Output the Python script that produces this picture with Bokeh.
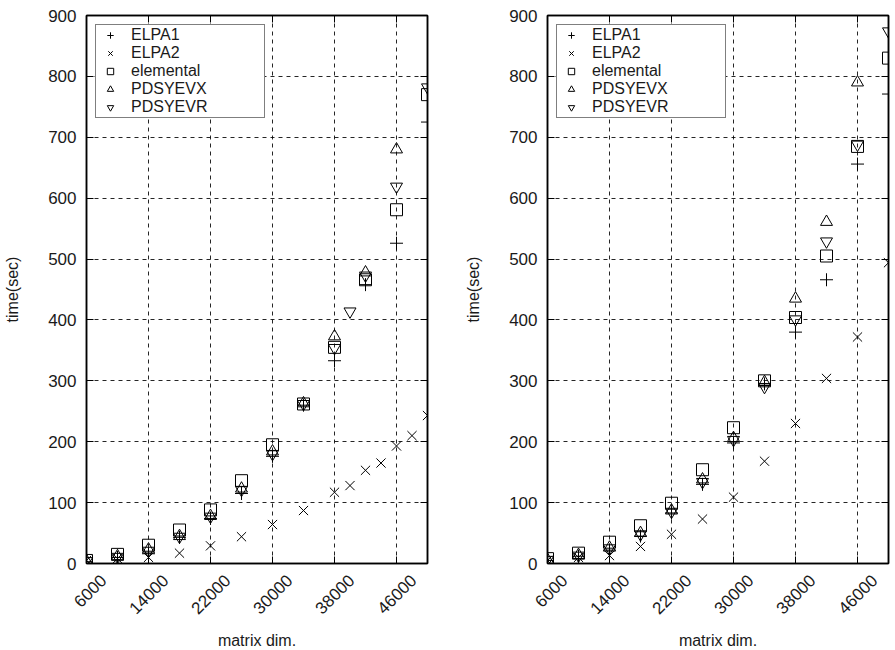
import math
from bokeh.plotting import figure
from bokeh.layouts import row
from bokeh.models import Range1d, FixedTicker, LinearAxis, Legend, LegendItem
from bokeh.embed import file_html
from bokeh.resources import INLINE

NAN = float("nan")

# ---------------- data ----------------
series_names = ["ELPA1", "ELPA2", "elemental", "PDSYEVX", "PDSYEVR"]
x_ticks = [6000, 14000, 22000, 30000, 38000, 46000]
y_ticks = [0, 100, 200, 300, 400, 500, 600, 700, 800, 900]
x_start, x_end = 6000, 50000
y_start, y_end = 0, 900

x_dims = [6000, 10000, 14000, 18000, 22000, 26000, 30000, 34000, 38000, 42000, 46000, 50000]

# left panel
left_elpa1 = [3, 10, 16, 43, 74, 115, 176, 260, 333, 458, 526, 725]
left_elpa2_x = [6000, 10000, 14000, 18000, 22000, 26000, 30000, 34000, 38000,
                40000, 42000, 44000, 46000, 48000, 50000]
left_elpa2 = [5, 8, 10, 17, 29, 44, 64, 87, 117, 128, 153, 165, 193, 210, 243]
left_elemental = [5, 15, 30, 55, 88, 136, 195, 262, 355, 466, 581, 770]
left_pdsyevx = [4, 12, 23, 45, 78, 123, 184, 263, 373, 478, 680, NAN]
left_pdsyevr_x = [6000, 10000, 14000, 18000, 22000, 26000, 30000, 34000, 38000,
                  40000, 42000, 46000, 50000]
left_pdsyevr = [4, 11, 21, 44, 77, 121, 180, 262, 354, 414, 473, 619, 782]

# right panel
right_elpa1 = [5, 12, 22, 45, 83, 130, 198, 295, 380, 466, 656, 771]
right_elpa2 = [5, 10, 13, 28, 48, 73, 109, 168, 230, 304, 372, 494]
right_elemental = [8, 17, 35, 62, 99, 154, 223, 300, 404, 505, 685, 830]
right_pdsyevx = [6, 14, 26, 50, 87, 138, 206, 298, 435, 561, 790, NAN]
right_pdsyevr = [6, 13, 25, 48, 85, 134, 203, 290, 401, 529, 688, 874]

markers = ["cross", "x", "square", "triangle", "inverted_triangle"]
sizes = [13, 13, 12, 12, 12]

FONT = "Liberation Sans"
TXT = "#1a1a1a"
FRAME_W = 341
LABEL_SHIFT_PX = 17  # rotated tick labels sit a little right of their tick


def style_axis(ax):
    ax.axis_line_color = "black"
    ax.axis_line_width = 1.5
    ax.major_tick_in = 7
    ax.major_tick_out = 0
    ax.minor_tick_in = 7
    ax.minor_tick_out = 0
    ax.major_tick_line_color = "black"
    ax.minor_tick_line_color = "black"
    ax.major_tick_line_width = 1
    ax.minor_tick_line_width = 1
    ax.major_label_text_font = FONT
    ax.major_label_text_font_size = "17px"
    ax.major_label_text_color = TXT
    ax.axis_label_text_font = FONT
    ax.axis_label_text_font_size = "16px"
    ax.axis_label_text_font_style = "normal"
    ax.axis_label_text_color = TXT


def make_panel(xs_list, ys_list, left_border, right_border):
    p = figure(width=left_border + FRAME_W + right_border, height=650,
               frame_width=FRAME_W, frame_height=548,
               min_border_left=left_border, min_border_right=right_border,
               min_border_top=15, min_border_bottom=87,
               x_range=Range1d(x_start, x_end), y_range=Range1d(y_start, y_end),
               output_backend="svg", toolbar_location=None,
               y_axis_label="time(sec)")
    p.outline_line_color = "black"
    p.outline_line_width = 1.5
    p.background_fill_color = "white"
    p.border_fill_color = "white"

    # bottom axis: inward ticks only
    for ax in p.xaxis:
        style_axis(ax)
        ax.ticker = FixedTicker(ticks=[], minor_ticks=x_ticks)
        ax.major_label_standoff = 0
    for ax in p.yaxis:
        style_axis(ax)
        ax.ticker = FixedTicker(ticks=y_ticks, minor_ticks=[])
        ax.major_label_standoff = 10
        ax.axis_label_standoff = 24

    # rotated tick labels on a slightly shifted copy of the x scale
    d = LABEL_SHIFT_PX * (x_end - x_start) / FRAME_W
    p.extra_x_ranges = {"lab": Range1d(x_start - d, x_end - d)}
    la = LinearAxis(x_range_name="lab", axis_label="matrix dim.")
    style_axis(la)
    la.ticker = FixedTicker(ticks=x_ticks, minor_ticks=[])
    la.axis_line_color = None
    la.major_tick_in = 0
    la.minor_tick_in = 0
    la.major_label_orientation = math.pi / 4
    la.major_label_standoff = 14
    la.axis_label_standoff = 10
    p.add_layout(la, "below")

    # mirrored inward ticks on right and top
    ra = LinearAxis()
    style_axis(ra)
    ra.ticker = FixedTicker(ticks=[], minor_ticks=y_ticks)
    ra.major_label_standoff = 0
    p.add_layout(ra, "right")
    ta = LinearAxis()
    style_axis(ta)
    ta.ticker = FixedTicker(ticks=[], minor_ticks=x_ticks)
    ta.major_label_standoff = 0
    p.add_layout(ta, "above")

    p.xgrid.ticker = FixedTicker(ticks=x_ticks)
    p.ygrid.ticker = FixedTicker(ticks=y_ticks)
    for g in (p.xgrid, p.ygrid):
        g.grid_line_color = "black"
        g.grid_line_alpha = 0.85
        g.grid_line_width = 1
        g.grid_line_dash = "4 4"

    items = []
    for name, mk, sz, xs, ys in zip(series_names, markers, sizes, xs_list, ys_list):
        r = p.scatter(xs, ys, marker=mk, size=sz, line_color="black",
                      fill_color=None, line_width=1)
        items.append(LegendItem(label=name, renderers=[r]))

    leg = Legend(items=items, location="top_left")
    leg.margin = 9
    leg.padding = 1
    leg.spacing = 0
    leg.label_height = 16
    leg.glyph_height = 16
    leg.glyph_width = 26
    leg.label_standoff = 8
    leg.label_width = 132
    leg.label_text_font = FONT
    leg.label_text_font_size = "16px"
    leg.label_text_color = TXT
    leg.border_line_color = "black"
    leg.border_line_width = 1.5
    leg.background_fill_color = "white"
    leg.background_fill_alpha = 1
    p.add_layout(leg)
    return p


p1 = make_panel([x_dims, left_elpa2_x, x_dims, x_dims, left_pdsyevr_x],
                [left_elpa1, left_elpa2, left_elemental, left_pdsyevx, left_pdsyevr],
                86, 33)
p2 = make_panel([x_dims, x_dims, x_dims, x_dims, x_dims],
                [right_elpa1, right_elpa2, right_elemental, right_pdsyevx, right_pdsyevr],
                87, 7)

layout = row(p1, p2)
open("out.html", "w").write(file_html(layout, INLINE))
